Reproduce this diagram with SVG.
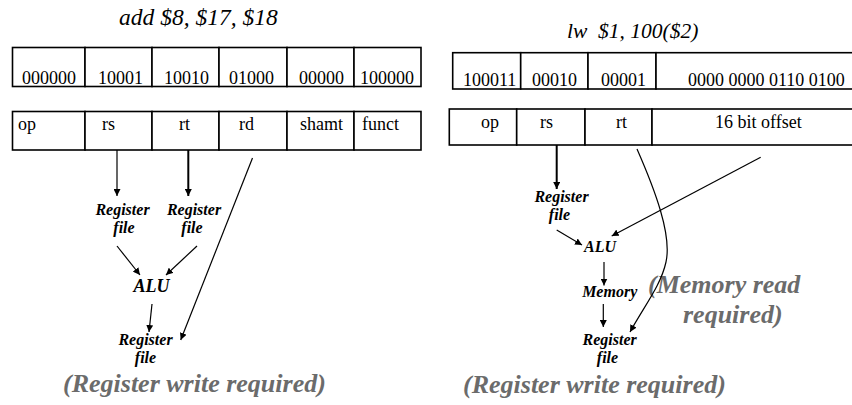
<svg xmlns="http://www.w3.org/2000/svg" width="852" height="405" viewBox="0 0 852 405">
<defs>
<marker id="ah" viewBox="0 0 10 10" refX="10" refY="5" markerWidth="7" markerHeight="7" markerUnits="userSpaceOnUse" orient="auto">
<path d="M0,0 L10,5 L0,10 z" fill="#000"/>
</marker>
<style>
text{font-family:"Liberation Serif","Times New Roman",Tinos,"DejaVu Serif",serif}
.cell{fill:#fff;stroke:#000;stroke-width:1.6}
.t{font-size:18px;fill:#000}
.title{font-style:italic;fill:#000}
.lbl{font-size:16px;font-style:italic;font-weight:bold;fill:#000;text-anchor:middle}
.big{font-size:26px;font-style:italic;font-weight:bold;fill:#6b6b6b}
.c{fill:none;stroke:#000;stroke-width:1.2;marker-end:url(#ah)}
.c2{fill:none;stroke:#000;stroke-width:2;marker-end:url(#ah)}
</style>
</defs>
<rect width="852" height="405" fill="#fff"/>

<g id="title-add"><text class="title" style="font-size:23.5px" x="119" y="25">add $8, $17, $18</text></g>
<g id="title-lw"><text class="title" style="font-size:21.5px" x="567" y="38">lw&#160; $1, 100($2)</text></g>

<g id="add-bits">
<rect class="cell" x="12.5" y="47.5" width="72.5" height="39"/>
<rect class="cell" x="85" y="47.5" width="67" height="39"/>
<rect class="cell" x="152" y="47.5" width="67" height="39"/>
<rect class="cell" x="219" y="47.5" width="68" height="39"/>
<rect class="cell" x="287" y="47.5" width="67" height="39"/>
<rect class="cell" x="354" y="47.5" width="67" height="39"/>
<text class="t" x="22" y="84">000000</text>
<text class="t" x="98" y="84">10001</text>
<text class="t" x="164" y="84">10010</text>
<text class="t" x="229" y="84">01000</text>
<text class="t" x="299" y="84">00000</text>
<text class="t" x="360" y="84">100000</text>
</g>

<g id="add-fields">
<rect class="cell" x="12.5" y="111.5" width="72.5" height="38.5"/>
<rect class="cell" x="85" y="111.5" width="67" height="38.5"/>
<rect class="cell" x="152" y="111.5" width="67" height="38.5"/>
<rect class="cell" x="219" y="111.5" width="68" height="38.5"/>
<rect class="cell" x="287" y="111.5" width="67" height="38.5"/>
<rect class="cell" x="354" y="111.5" width="67" height="38.5"/>
<text class="t" x="18" y="130">op</text>
<text class="t" x="102" y="130">rs</text>
<text class="t" x="179" y="130">rt</text>
<text class="t" x="239" y="130">rd</text>
<text class="t" x="300" y="130">shamt</text>
<text class="t" x="362" y="130">funct</text>
</g>

<g id="lw-bits">
<rect class="cell" x="452.7" y="52.7" width="68" height="36.3"/>
<rect class="cell" x="520.7" y="52.7" width="67.3" height="36.3"/>
<rect class="cell" x="588" y="52.7" width="68" height="36.3"/>
<rect class="cell" x="656" y="52.7" width="210" height="36.3"/>
<text class="t" x="463" y="86">100011</text>
<text class="t" x="532" y="86">00010</text>
<text class="t" x="601" y="86">00001</text>
<text class="t" x="688" y="86">0000 0000 0110 0100</text>
</g>

<g id="lw-fields">
<rect class="cell" x="449.3" y="109" width="67.4" height="36"/>
<rect class="cell" x="516.7" y="109" width="68.3" height="36"/>
<rect class="cell" x="585" y="109" width="67" height="36"/>
<rect class="cell" x="652" y="109" width="214" height="36"/>
<text class="t" x="481" y="128">op</text>
<text class="t" x="540" y="128">rs</text>
<text class="t" x="616" y="128">rt</text>
<text class="t" x="715" y="128">16 bit offset</text>
</g>

<g id="add-regfile1"><text class="lbl"><tspan x="122.5" y="215">Register</tspan><tspan x="124" y="233">file</tspan></text></g>
<g id="add-regfile2"><text class="lbl"><tspan x="194" y="215">Register</tspan><tspan x="192" y="233">file</tspan></text></g>
<g id="add-alu"><text class="lbl" style="font-size:18px" x="151.5" y="292">ALU</text></g>
<g id="add-regfile3"><text class="lbl"><tspan x="145.5" y="345">Register</tspan><tspan x="145.5" y="363">file</tspan></text></g>
<g id="add-note"><text class="big" x="63" y="392">(Register write required)</text></g>

<g id="lw-regfile1"><text class="lbl"><tspan x="561.5" y="202">Register</tspan><tspan x="559.5" y="220">file</tspan></text></g>
<g id="lw-alu"><text class="lbl" x="600" y="252">ALU</text></g>
<g id="lw-memory"><text class="lbl" x="609.7" y="297">Memory</text></g>
<g id="lw-regfile2"><text class="lbl"><tspan x="609.7" y="345">Register</tspan><tspan x="607.5" y="363">file</tspan></text></g>
<g id="lw-note1"><text class="big" x="463" y="393">(Register write required)</text></g>
<g id="lw-note2"><text class="big" x="648" y="293">(Memory read</text><text class="big" x="683" y="323">required)</text></g>

<g id="connectors">
<line class="c" x1="117" y1="150" x2="117" y2="196"/>
<line class="c2" x1="188.3" y1="150" x2="188.3" y2="196"/>
<line class="c" x1="117" y1="246" x2="140" y2="275"/>
<line class="c" x1="197" y1="246" x2="166" y2="275"/>
<line class="c" x1="152" y1="304" x2="149" y2="332"/>
<line class="c" x1="252.5" y1="158" x2="180.7" y2="340"/>

<line class="c2" x1="556.7" y1="145" x2="556.7" y2="189"/>
<line class="c" x1="556.7" y1="230" x2="582" y2="245"/>
<line class="c" x1="760.7" y1="157.3" x2="611.7" y2="236"/>
<line class="c" x1="604" y1="262" x2="604" y2="285.5"/>
<line class="c" x1="603.3" y1="304" x2="603.3" y2="327"/>
<path class="c" d="M637 149 C655 190 672 235 666 262 C661 285 645 305 630 332"/>
</g>
</svg>
